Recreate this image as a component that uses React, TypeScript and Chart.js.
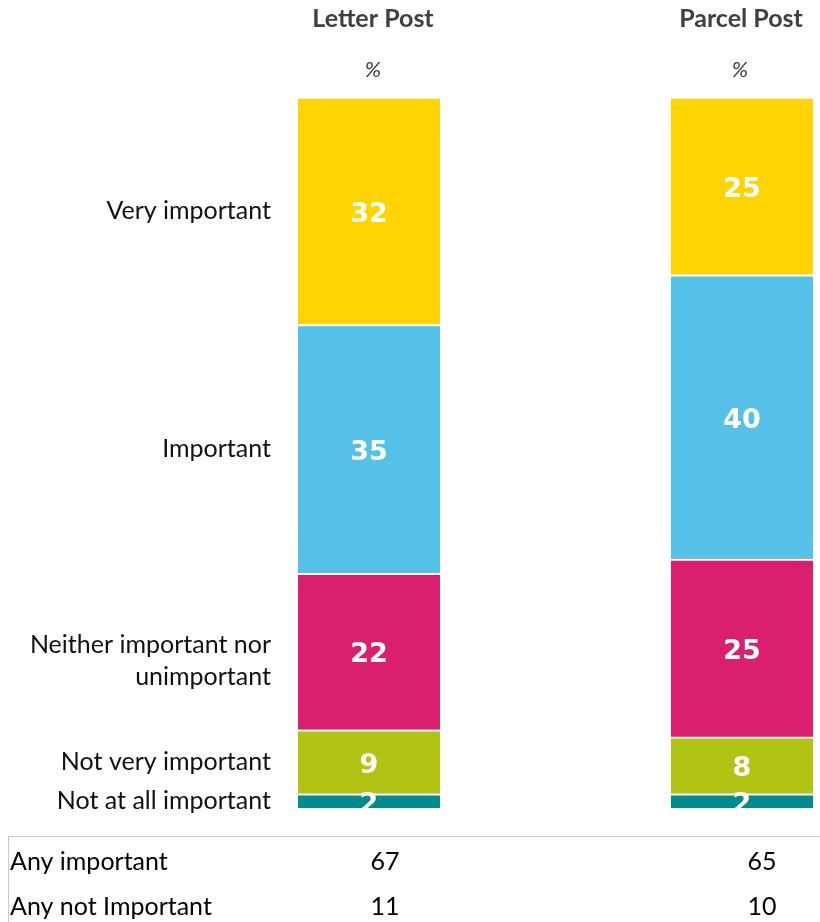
import React, { useEffect, useRef } from "react";
import { Chart, registerables } from "chart.js";

Chart.register(...registerables);

// Services compared
const services = ["Letter Post", "Parcel Post"];

// Share of respondents (%) per answer, one value per service
const veryImportant = [32, 25];
const important = [35, 40];
const neitherNor = [22, 25];
const notVeryImportant = [9, 8];
const notAtAllImportant = [2, 2];

// Answer labels shown to the left of the bars (multi-line where wrapped)
const veryImportantLabel = ["Very important"];
const importantLabel = ["Important"];
const neitherNorLabel = ["Neither important nor", "unimportant"];
const notVeryImportantLabel = ["Not very important"];
const notAtAllImportantLabel = ["Not at all important"];

// Summary rows below the chart
const summaryLabels = ["Any important", "Any not Important"];
const anyImportant = veryImportant.map((v, i) => v + important[i]);
const anyNotImportant = notVeryImportant.map((v, i) => v + notAtAllImportant[i]);

const WIDTH = 820;
const HEIGHT = 922;

const LABEL_FONT = '25px Lato, "Open Sans", sans-serif';

const overlayPlugin = {
  id: "surveyOverlay",
  afterDatasetsDraw(chart: any) {
    const ctx: CanvasRenderingContext2D = chart.ctx;
    const area = chart.chartArea;
    const xScale = chart.scales.x;

    // Values inside the bar segments, kept within the plot height
    ctx.save();
    ctx.beginPath();
    ctx.rect(0, area.top, chart.width, area.bottom - area.top);
    ctx.clip();
    ctx.fillStyle = "#ffffff";
    ctx.font = 'bold 27px "DejaVu Sans", Verdana, sans-serif';
    ctx.textAlign = "center";
    ctx.textBaseline = "alphabetic";
    chart.data.datasets.forEach((ds: any, di: number) => {
      const meta = chart.getDatasetMeta(di);
      meta.data.forEach((el: any, i: number) => {
        const p = el.getProps(["x", "y", "base"], true);
        const cy = (p.y + 2 + p.base) / 2;
        ctx.fillText(String(ds.data[i]), p.x, cy + 9.8);
      });
    });
    ctx.restore();

    // Answer labels aligned with the Letter Post segments
    ctx.save();
    ctx.fillStyle = "#111111";
    ctx.font = LABEL_FONT;
    ctx.textAlign = "right";
    ctx.textBaseline = "alphabetic";
    const lineGap = 32;
    chart.data.datasets.forEach((ds: any, di: number) => {
      const meta = chart.getDatasetMeta(di);
      const el = meta.data[0];
      const p = el.getProps(["y", "base"], true);
      const lines: string[] = ds.answerLines;
      const center = (p.y + 2 + p.base) / 2 + (lines.length > 1 ? 7 : -2);
      const firstBaseline = center - ((lines.length - 1) * lineGap) / 2 + 9;
      lines.forEach((line, li) => {
        ctx.fillText(line, 271, firstBaseline + li * lineGap);
      });
    });
    ctx.restore();

    // Column headers
    ctx.save();
    ctx.textAlign = "center";
    ctx.textBaseline = "alphabetic";
    services.forEach((name, i) => {
      const x = xScale.getPixelForValue(i);
      ctx.fillStyle = "#404040";
      ctx.font = 'bold 25px Lato, "Open Sans", sans-serif';
      ctx.fillText(name, x + (i === 0 ? 4 : -1), 27);
      ctx.font = 'italic 22px Lato, "Open Sans", sans-serif';
      ctx.fillText("%", x + (i === 0 ? 4 : -2), 77);
    });
    ctx.restore();

    // Summary table
    ctx.save();
    ctx.strokeStyle = "#c8c8c8";
    ctx.lineWidth = 1;
    ctx.beginPath();
    ctx.moveTo(8, 836.5);
    ctx.lineTo(chart.width, 836.5);
    ctx.moveTo(8.5, 836);
    ctx.lineTo(8.5, chart.height);
    ctx.stroke();

    ctx.fillStyle = "#000000";
    ctx.font = LABEL_FONT;
    ctx.textBaseline = "alphabetic";
    const rows = [anyImportant, anyNotImportant];
    const columnX = [385, 762];
    rows.forEach((vals, r) => {
      const baseline = 870 + r * 45;
      ctx.textAlign = "left";
      ctx.fillText(summaryLabels[r], 10, baseline);
      ctx.textAlign = "center";
      vals.forEach((v, c) => ctx.fillText(String(v), columnX[c], baseline));
    });
    ctx.restore();
  },
};

export default function App() {
  const canvasRef = useRef<HTMLCanvasElement | null>(null);

  useEffect(() => {
    const canvas = canvasRef.current;
    if (!canvas) return;

    const segment = (data: number[], color: string, answerLines: string[]) => ({
      data,
      backgroundColor: color,
      borderColor: "#ffffff",
      borderWidth: { top: 2, right: 0, bottom: 0, left: 0 },
      borderSkipped: false,
      barThickness: 142,
      stack: "answers",
      clip: false,
      answerLines,
    });

    const chart = new Chart(canvas, {
      type: "bar",
      data: {
        labels: services,
        datasets: [
          segment(notAtAllImportant, "#008C8C", notAtAllImportantLabel),
          segment(notVeryImportant, "#B1C413", notVeryImportantLabel),
          segment(neitherNor, "#D91F6D", neitherNorLabel),
          segment(important, "#56C1E8", importantLabel),
          segment(veryImportant, "#FFD400", veryImportantLabel),
        ] as any,
      },
      options: {
        animation: false,
        responsive: false,
        maintainAspectRatio: false,
        devicePixelRatio: 1,
        layout: {
          padding: { left: 369, right: WIDTH - 742, top: 97, bottom: HEIGHT - 808 },
        },
        scales: {
          x: { display: false, stacked: true, offset: false },
          y: { display: false, stacked: true, min: 0, max: 100 },
        },
        plugins: {
          legend: { display: false },
          tooltip: { enabled: false },
        },
      },
      plugins: [overlayPlugin],
    });

    return () => chart.destroy();
  }, []);

  return (
    <div style={{ position: "fixed", left: 0, top: 0, width: WIDTH, height: HEIGHT, background: "#ffffff" }}>
      <canvas ref={canvasRef} width={WIDTH} height={HEIGHT} style={{ display: "block" }} />
    </div>
  );
}
